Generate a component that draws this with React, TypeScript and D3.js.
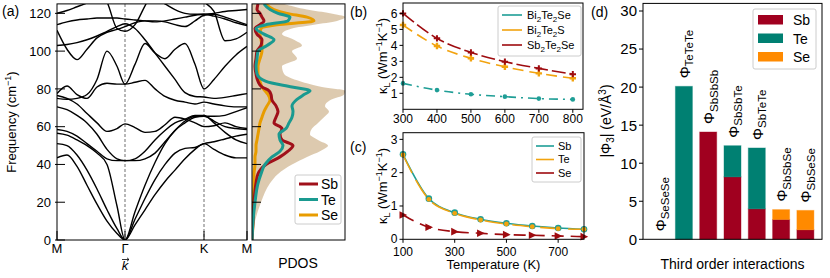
import React from 'react';
import * as d3 from 'd3';

const FONT = '"Liberation Sans", Arial, Helvetica, sans-serif';

// (a) phonon dispersion along M-Γ-K-M
const K_PATH = [0, 10, 20, 30, 40, 50, 60, 68, 78, 88, 98, 108, 118, 128, 138, 147, 157, 168, 179, 190];
const K_TICKS = [0, 68, 147, 190];
const K_LABELS = ['M', 'Γ', 'K', 'M'];
const FREQ_TICKS = [0, 20, 40, 60, 80, 100, 120];
const BANDS = [
  [43.5, 45, 39, 29, 19, 10, 3.5, 0, 8, 16, 24, 31, 37, 43, 48, 51, 48, 45, 43.5, 43.5],
  [51, 50, 45, 37, 27, 16, 6, 0, 11, 22, 32, 40, 46, 48.5, 49, 51, 52, 53.5, 55, 56],
  [56.5, 55.5, 53, 50, 46, 40, 18, 0, 15, 29, 41, 51, 58, 62, 65, 65.5, 65.5, 66, 68, 70],
  [58.5, 57.5, 55, 51, 47, 43, 42, 42, 42, 43, 46, 52, 58, 63, 65.5, 65.5, 63, 60, 59, 58.5],
  [70.5, 69, 66, 62, 56, 48, 43, 42, 43, 47, 53, 58, 62, 64, 66, 66, 62, 57, 53, 51],
  [76.5, 75, 72, 67, 62, 57.5, 59, 61.5, 59.5, 57, 57.5, 61, 65, 64, 62, 60, 60.5, 62, 60, 59],
  [77.5, 81.5, 77, 75, 81, 83, 82.5, 82.5, 83.5, 84.5, 80, 76, 74, 73, 72, 73, 72, 71, 70.5, 70.5],
  [75, 74.5, 75, 77, 85, 100, 92, 82.5, 93, 104, 99, 96, 101, 104, 93, 80, 85, 92, 98, 102.5],
  [103, 103.5, 104.5, 106, 108, 110.5, 113, 114.5, 112, 106, 99, 92, 85, 78, 76, 75.7, 75, 75.5, 76.5, 77.5],
  [111, 101, 95.5, 101, 107, 110, 111.5, 113, 115, 116, 116, 115.5, 114, 113, 116, 119, 119.5, 118, 116, 114],
  [114, 115.5, 116.5, 117, 117.5, 117.5, 117.5, 117, 116.5, 116, 115.5, 116, 117, 118, 119, 119.5, 120, 121, 121.5, 122],
  [120, 121.5, 123.5, 125.5, 128, 131, 133, 134, 133, 131, 128, 125, 122, 120, 119.5, 119.5, 118.5, 117, 115, 113.5],
  [140, 138, 136, 134, 131, 126, 112, 110.5, 114, 124, 133, 137, 138, 137, 135, 133, 131, 130, 129, 128],
  [140, 140, 140, 140, 140, 140, 140, 140, 140, 140, 139, 137, 135, 133, 130, 126, 121, 105.5, 106.5, 110],
];

// PDOS (arbitrary units)
const PDOS_FREQ = [0, 10, 20, 30, 35, 40, 44, 47, 50, 53, 56, 59, 62, 65, 68, 71, 74, 77, 79, 81, 84, 88, 92, 96, 100, 103, 106, 109, 112, 114, 116, 118, 120, 122, 125];
const PDOS_TOTAL = [0, 3, 9, 18, 26, 40, 55, 68, 76, 66, 58, 60, 66, 72, 77, 73, 78, 92, 93, 70, 48, 32, 30, 45, 40, 50, 42, 30, 40, 62, 85, 93, 78, 55, 32];
const PDOS_SB = [0, 1, 2, 4, 6, 14, 28, 36, 41, 30, 28, 30, 22, 24, 26, 24, 20, 19, 17, 10, 6, 4, 3, 4, 5, 9, 10, 5, 3, 8, 12, 10, 8, 5, 6];
const PDOS_TE = [0, 1, 3, 6, 9, 13, 20, 28, 31, 28, 27, 34, 37, 40, 41, 40, 44, 52, 58, 40, 14, 5, 4, 5, 6, 15, 22, 12, 4, 14, 36, 38, 26, 18, 12];
const PDOS_SE = [0, 1, 1, 2, 2, 3, 3, 4, 4, 5, 6, 7, 8, 10, 12, 15, 18, 16, 13, 10, 8, 6, 6, 8, 10, 10, 9, 8, 9, 25, 62, 55, 35, 22, 14];

// (b) compounds
const T_B = [300, 400, 500, 600, 700, 800];
const KL_BI2TE2SE = [1.62, 1.2, 0.94, 0.79, 0.67, 0.62];
const KL_BI2TE2S = [5.27, 3.96, 3.19, 2.66, 2.25, 1.94];
const KL_SB2TE2SE = [6.0, 4.44, 3.56, 2.98, 2.56, 2.2];
const B_XTICKS = [300, 400, 500, 600, 700, 800];
const B_YTICKS = [1, 2, 3, 4, 5, 6];

// (c) element-resolved
const T_C = [100, 200, 300, 400, 500, 600, 700, 800];
const KL_SB = [2.55, 1.22, 0.8, 0.6, 0.48, 0.4, 0.34, 0.3];
const KL_TE = [2.53, 1.2, 0.78, 0.58, 0.46, 0.38, 0.32, 0.3];
const KL_SE = [0.73, 0.36, 0.23, 0.18, 0.14, 0.12, 0.1, 0.08];
const C_XTICKS = [100, 300, 500, 700];
const C_YTICKS = [0, 1, 2, 3];

// (d) third-order IFCs
const INTERACTIONS = ['SeSeSe', 'TeTeTe', 'SbSbSb', 'SbSbTe', 'SbTeTe', 'SbSbSe', 'SbSeSe'];
const PHI_SB = [0, 0, 14.1, 8.2, 4.0, 2.6, 1.25];
const PHI_TE = [0, 20.1, 0, 4.1, 8.0, 0, 0];
const PHI_SE = [0, 0, 0, 0, 0, 1.3, 2.55];
const D_YTICKS = [0, 5, 10, 15, 20, 25, 30];

const C_RED = '#a0101a';
const C_TEAL = '#1a9a90';
const C_ORANGE = '#e89c00';
const L_TEAL = '#1f9e96';
const L_ORANGE = '#f2a30f';
const L_RED = '#9e0b0f';
const D_SB = '#a0001f';
const D_TE = '#008072';
const D_SE = '#ff8a00';

const plus = (s: number) => `M${-s},0H${s}M0,${-s}V${s}`;

export default function App() {
  // panel a
  const aX = d3.scaleLinear().domain([0, 190]).range([57, 247]);
  const aY = d3.scaleLinear().domain([0, 125]).range([240, 3.9]);
  const bandLine = d3.line<number>().x((_, i) => aX(K_PATH[i])).y(d => aY(d)).curve(d3.curveMonotoneX);

  // PDOS
  const pX = d3.scaleLinear().domain([0, 93]).range([252, 345]);
  const pLine = (vals: number[]) =>
    d3.line<number>().x(d => pX(d)).y((_, i) => aY(PDOS_FREQ[i])).curve(d3.curveMonotoneY)(vals) || '';
  const pArea = d3.area<number>().y((_, i) => aY(PDOS_FREQ[i])).x0(pX(0)).x1(d => pX(d)).curve(d3.curveMonotoneY)(PDOS_TOTAL) || '';

  // panel b
  const bX = d3.scaleLinear().domain([300, 830]).range([403, 583]);
  const bY = d3.scaleLinear().domain([0, 6.65]).range([109.3, 3]);
  const bLine = (vals: number[]) =>
    d3.line<number>().x((_, i) => bX(T_B[i])).y(d => bY(d)).curve(d3.curveMonotoneX)(vals) || '';

  // panel c
  const cX = d3.scaleLinear().domain([100, 800]).range([403, 584]);
  const cY = d3.scaleLinear().domain([0, 3.2]).range([239.3, 132.7]);
  const cLine = (vals: number[]) =>
    d3.line<number>().x((_, i) => cX(T_C[i])).y(d => cY(d)).curve(d3.curveMonotoneX)(vals) || '';

  // panel d
  const dX = d3.scaleBand().domain(INTERACTIONS).range([643, 822]).paddingInner(0.3).paddingOuter(0.333);
  const dY = d3.scaleLinear().domain([0, 31]).range([239.3, 3.4]);
  const rows = INTERACTIONS.map((k, i) => ({ key: k, Sb: PHI_SB[i], Te: PHI_TE[i], Se: PHI_SE[i] }));
  const stack = d3.stack<any>().keys(['Sb', 'Te', 'Se'])(rows);
  const dColors: Record<string, string> = { Sb: D_SB, Te: D_TE, Se: D_SE };

  const gx = aX(68);

  return (
    <svg width={830} height={278} style={{ position: 'absolute', left: 0, top: 0, background: '#fff' }}
      fontFamily={FONT}>
      <defs>
        <clipPath id="clipA"><rect x={57} y={3.9} width={190} height={236.1} /></clipPath>
        <clipPath id="clipP"><rect x={252} y={3.9} width={93} height={236.1} /></clipPath>
      </defs>

      {/* ---------- (a) ---------- */}
      <text x={2} y={16} fontSize={14}>(a)</text>
      {K_TICKS.slice(1, 3).map(k => (
        <line key={k} x1={aX(k)} x2={aX(k)} y1={aY(125)} y2={aY(0)} stroke="#888" strokeWidth={1.2} strokeDasharray="3,2" />
      ))}
      <g clipPath="url(#clipA)">
        {BANDS.map((b, i) => (
          <path key={i} d={bandLine(b) || ''} fill="none" stroke="#000" strokeWidth={1.4} />
        ))}
      </g>
      <rect x={57} y={3.9} width={190} height={236.1} fill="none" stroke="#000" strokeWidth={1} />
      {FREQ_TICKS.map(f => (
        <g key={f}>
          <line x1={55} x2={65} y1={aY(f)} y2={aY(f)} stroke="#000" />
          <text x={51} y={aY(f)} dy="0.36em" textAnchor="end" fontSize={13}>{f}</text>
        </g>
      ))}
      {K_TICKS.map((k, i) => (
        <g key={i}>
          <line x1={aX(k)} x2={aX(k)} y1={240} y2={231} stroke="#000" />
          <text x={aX(k)} y={253} textAnchor="middle" fontSize={13}>{K_LABELS[i]}</text>
        </g>
      ))}
      <text x={gx} y={270} textAnchor="middle" fontSize={13} fontStyle="italic">k</text>
      <path d={`M${gx - 3},${259.5}H${gx + 4}M${gx + 2},${257.8}L${gx + 4},${259.5}L${gx + 2},${261.2}`}
        fill="none" stroke="#000" strokeWidth={0.8} />
      <text transform="translate(16,122) rotate(-90)" textAnchor="middle" fontSize={13}>
        Frequency (cm<tspan dy={-5} fontSize={9}>−1</tspan><tspan dy={5}>)</tspan>
      </text>

      {/* ---------- PDOS ---------- */}
      <g clipPath="url(#clipP)">
        <path d={pArea} fill="#d9c4a6" opacity={0.9} />
        <path d={pLine(PDOS_SE)} fill="none" stroke={C_ORANGE} strokeWidth={3} />
        <path d={pLine(PDOS_SB)} fill="none" stroke={C_RED} strokeWidth={3} />
        <path d={pLine(PDOS_TE)} fill="none" stroke={C_TEAL} strokeWidth={3} />
      </g>
      <rect x={252} y={3.9} width={93} height={236.1} fill="none" stroke="#000" strokeWidth={1} />
      {FREQ_TICKS.slice(1).map(f => (
        <line key={f} x1={252} x2={261} y1={aY(f)} y2={aY(f)} stroke="#000" />
      ))}
      <g>
        <rect x={295} y={175} width={46} height={49} rx={2} fill="#fff" fillOpacity={0.85} stroke="#ccc" />
        {[['Sb', C_RED], ['Te', C_TEAL], ['Se', C_ORANGE]].map(([n, c], i) => (
          <g key={n}>
            <line x1={299} x2={318} y1={184 + i * 15.5} y2={184 + i * 15.5} stroke={c} strokeWidth={3} />
            <text x={321} y={184 + i * 15.5} dy="0.36em" fontSize={14}>{n}</text>
          </g>
        ))}
      </g>
      <text x={298} y={268} textAnchor="middle" fontSize={14}>PDOS</text>

      {/* ---------- (b) ---------- */}
      <text x={350} y={17} fontSize={14}>(b)</text>
      <path d={bLine(KL_BI2TE2SE)} fill="none" stroke={L_TEAL} strokeWidth={1.6} strokeDasharray="9,5,2,5" />
      <path d={bLine(KL_BI2TE2S)} fill="none" stroke={L_ORANGE} strokeWidth={1.6} strokeDasharray="11,6" />
      <path d={bLine(KL_SB2TE2SE)} fill="none" stroke={L_RED} strokeWidth={1.6} strokeDasharray="14,4" />
      {T_B.map((t, i) => (
        <g key={t}>
          <circle cx={bX(t)} cy={bY(KL_BI2TE2SE[i])} r={2.3} fill={L_TEAL} />
          <path d={plus(3.2)} transform={`translate(${bX(t)},${bY(KL_BI2TE2S[i])})`} stroke={L_ORANGE} strokeWidth={2.4} />
          <path d={plus(3.2)} transform={`translate(${bX(t)},${bY(KL_SB2TE2SE[i])})`} stroke={L_RED} strokeWidth={2} />
        </g>
      ))}
      <rect x={403} y={3} width={180} height={106.3} fill="none" stroke="#000" strokeWidth={1} />
      {B_XTICKS.map(t => (
        <g key={t}>
          <line x1={bX(t)} x2={bX(t)} y1={109.3} y2={112.8} stroke="#000" />
          <text x={bX(t)} y={123} textAnchor="middle" fontSize={12}>{t}</text>
        </g>
      ))}
      {B_YTICKS.map(v => (
        <g key={v}>
          <line x1={399.5} x2={403} y1={bY(v)} y2={bY(v)} stroke="#000" />
          <text x={397.5} y={bY(v)} dy="0.36em" textAnchor="end" fontSize={12}>{v}</text>
        </g>
      ))}
      <text transform="translate(387,56) rotate(-90)" textAnchor="middle" fontSize={13}>
        κ<tspan dy={3} fontSize={9}>L</tspan><tspan dy={-3}> (Wm</tspan><tspan dy={-5} fontSize={9}>−1</tspan>
        <tspan dy={5}>K</tspan><tspan dy={-5} fontSize={9}>−1</tspan><tspan dy={5}>)</tspan>
      </text>
      <g>
        <rect x={498} y={6} width={83} height={50} rx={2} fill="#fff" fillOpacity={0.85} stroke="#ccc" />
        {[
          [L_TEAL, ['Bi', '2', 'Te', '2', 'Se']],
          [L_ORANGE, ['Bi', '2', 'Te', '2', 'S']],
          [L_RED, ['Sb', '2', 'Te', '2', 'Se']],
        ].map(([c, parts]: any, i) => (
          <g key={i}>
            <line x1={502} x2={522} y1={15 + i * 15} y2={15 + i * 15} stroke={c} strokeWidth={1.6} />
            <text x={527} y={15 + i * 15} dy="0.36em" fontSize={11}>
              {parts[0]}<tspan dy={3} fontSize={8}>{parts[1]}</tspan><tspan dy={-3}>{parts[2]}</tspan>
              <tspan dy={3} fontSize={8}>{parts[3]}</tspan><tspan dy={-3}>{parts[4]}</tspan>
            </text>
          </g>
        ))}
      </g>

      {/* ---------- (c) ---------- */}
      <text x={350} y={152} fontSize={14}>(c)</text>
      <path d={cLine(KL_SB)} fill="none" stroke={L_TEAL} strokeWidth={1.6} />
      <path d={cLine(KL_TE)} fill="none" stroke={L_ORANGE} strokeWidth={1.6} strokeDasharray="20,8" />
      <path d={cLine(KL_SE)} fill="none" stroke={L_RED} strokeWidth={1.6} strokeDasharray="12,7" />
      {T_C.map((t, i) => (
        <g key={t}>
          <circle cx={cX(t)} cy={cY(KL_SB[i])} r={3.3} fill={L_TEAL} />
          <circle cx={cX(t)} cy={cY(KL_TE[i])} r={2.4} fill={L_ORANGE} />
          <path d="M-3.5,-3.8L4.2,0L-3.5,3.8Z" transform={`translate(${cX(t)},${cY(KL_SE[i])})`} fill={L_RED} />
        </g>
      ))}
      <rect x={403} y={132.7} width={181} height={106.6} fill="none" stroke="#000" strokeWidth={1} />
      {C_XTICKS.map(t => (
        <g key={t}>
          <line x1={cX(t)} x2={cX(t)} y1={239.3} y2={242.8} stroke="#000" />
          <text x={cX(t)} y={255.5} textAnchor="middle" fontSize={12}>{t}</text>
        </g>
      ))}
      {C_YTICKS.map(v => (
        <g key={v}>
          <line x1={399.5} x2={403} y1={cY(v)} y2={cY(v)} stroke="#000" />
          <text x={397.5} y={cY(v)} dy={v === 0 ? '0.3em' : '0.36em'} textAnchor="end" fontSize={12}>{v}</text>
        </g>
      ))}
      <text transform="translate(387,186) rotate(-90)" textAnchor="middle" fontSize={13}>
        κ<tspan dy={3} fontSize={9}>L</tspan><tspan dy={-3}> (Wm</tspan><tspan dy={-5} fontSize={9}>−1</tspan>
        <tspan dy={5}>K</tspan><tspan dy={-5} fontSize={9}>−1</tspan><tspan dy={5}>)</tspan>
      </text>
      <text x={493.5} y={269} textAnchor="middle" fontSize={13}>Temperature (K)</text>
      <g>
        <rect x={532} y={137} width={49} height={45} rx={2} fill="#fff" fillOpacity={0.85} stroke="#ccc" />
        {[['Sb', L_TEAL], ['Te', L_ORANGE], ['Se', L_RED]].map(([n, c], i) => (
          <g key={n}>
            <line x1={536} x2={554} y1={146 + i * 13.5} y2={146 + i * 13.5} stroke={c} strokeWidth={1.6} />
            <text x={558} y={146 + i * 13.5} dy="0.36em" fontSize={11}>{n}</text>
          </g>
        ))}
      </g>

      {/* ---------- (d) ---------- */}
      <text x={591} y={17} fontSize={14}>(d)</text>
      {stack.map(layer => (
        <g key={layer.key}>
          {layer.map((seg, i) => seg[1] - seg[0] > 0 ? (
            <rect key={i} x={dX(INTERACTIONS[i])} width={dX.bandwidth()} y={dY(seg[1])}
              height={dY(seg[0]) - dY(seg[1])} fill={dColors[layer.key]}
              stroke={dColors[layer.key]} strokeOpacity={0.4} strokeWidth={1} />
          ) : null)}
        </g>
      ))}
      {INTERACTIONS.map((k, i) => {
        const top = PHI_SB[i] + PHI_TE[i] + PHI_SE[i];
        const cx = (dX(k) || 0) + dX.bandwidth() / 2;
        return (
          <text key={k} transform={`translate(${cx + 6},${dY(top) - 8}) rotate(-90)`} fontSize={15}>
            Φ<tspan dy={3.5} fontSize={11.5}>{k}</tspan>
          </text>
        );
      })}
      <rect x={643} y={3.4} width={179} height={235.9} fill="none" stroke="#000" strokeWidth={1} />
      {D_YTICKS.map(v => (
        <g key={v}>
          <line x1={639} x2={643} y1={dY(v)} y2={dY(v)} stroke="#000" />
          <text x={637} y={dY(v)} dy="0.36em" textAnchor="end" fontSize={15}>{v}</text>
        </g>
      ))}
      <text transform="translate(611,121) rotate(-90)" textAnchor="middle" fontSize={14}>
        |Φ<tspan dy={3} fontSize={10}>3</tspan><tspan dy={-3}>| (eV/Å</tspan><tspan dy={-5} fontSize={10}>3</tspan><tspan dy={5}>)</tspan>
      </text>
      <text x={732.5} y={269} textAnchor="middle" fontSize={14}>Third order interactions</text>
      <g>
        <rect x={753} y={9} width={63} height={60} rx={2} fill="#fff" fillOpacity={0.85} stroke="#ccc" />
        {[['Sb', D_SB], ['Te', D_TE], ['Se', D_SE]].map(([n, c], i) => (
          <g key={n}>
            <rect x={758} y={15 + i * 18.5} width={25} height={9.5} fill={c} />
            <text x={793} y={20 + i * 18.5} dy="0.36em" fontSize={14}>{n}</text>
          </g>
        ))}
      </g>
    </svg>
  );
}
